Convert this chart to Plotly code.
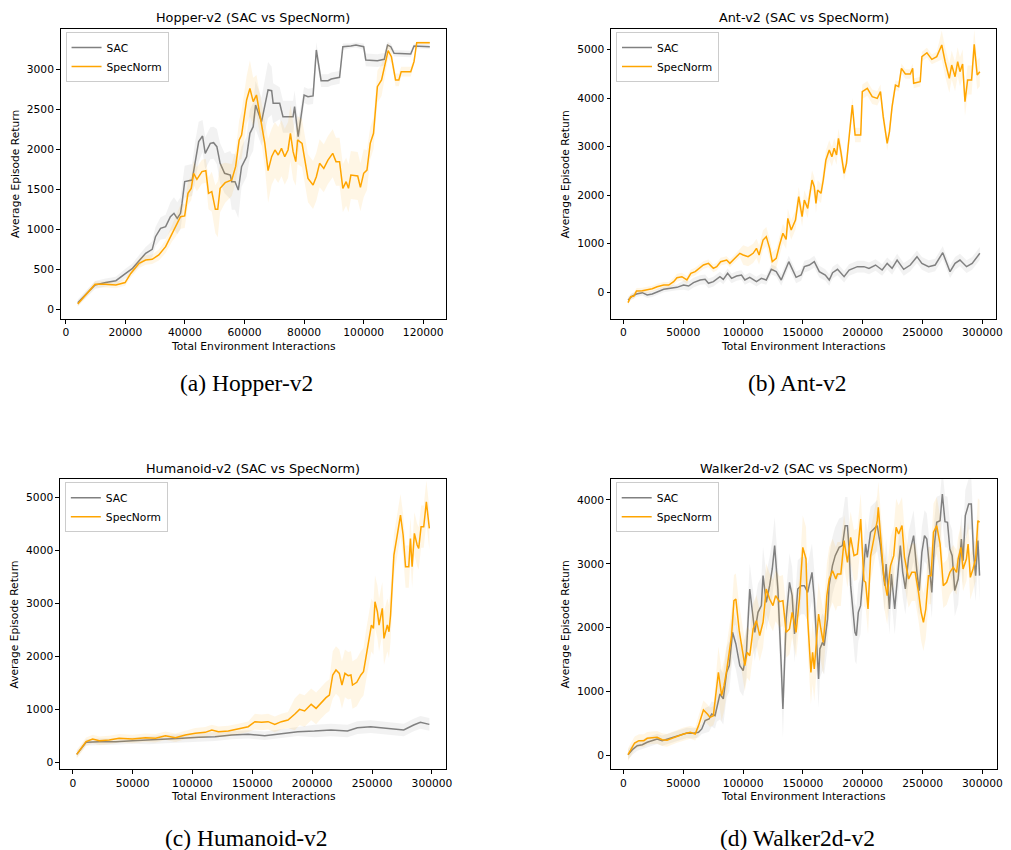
import plotly.graph_objects as go

# ---------------- DATA ----------------
# Hopper-v2
hop_sac_x = [4000, 9800, 13400, 16800, 20100, 22400, 24600, 26800, 29000, 30100, 31800, 33500, 35100, 36300, 37400, 38500, 39000, 39900, 42400, 43500,
             44600, 45900, 46800, 48500, 49600, 50700, 51800, 53300, 55200, 55700, 56800, 57900, 59000, 60700, 61800, 62900, 63700, 65700, 67900, 69100,
             69600, 71800, 72900, 76300, 76800, 78000, 80000, 81300, 83000, 84100, 85700, 88000, 89100, 91900, 93000, 95700, 97400, 100000, 100700, 104600,
             106900, 108000, 109100, 110200, 115800, 116900, 122200]
hop_sac_y = [79, 300, 330, 354, 445, 508, 604, 696, 746, 904, 1008, 1029, 1154, 1196, 1133, 1196, 1320, 1592, 1612, 1862,
             2092, 2162, 1946, 2071, 2079, 2029, 1821, 1696, 1675, 1592, 1592, 1487, 1779, 1904, 2196, 2279, 2550, 2342, 2738, 2729,
             2571, 2571, 2404, 2404, 2529, 2154, 2675, 2654, 2663, 3238, 2854, 2854, 2875, 2896, 3279, 3288, 3300, 3279, 3113, 3104,
             3121, 3300, 3279, 3196, 3188, 3288, 3279]
hop_sac_sd = [40, 50, 50, 50, 60, 60, 70, 80, 100, 120, 140, 150, 180, 200, 200, 200, 220, 200, 200, 250,
              250, 200, 200, 200, 200, 220, 250, 250, 300, 350, 350, 350, 250, 250, 300, 300, 300, 300, 350, 300,
              250, 200, 200, 200, 200, 200, 100, 100, 100, 100, 80, 80, 80, 80, 40, 30, 30, 40, 80, 80,
              80, 40, 40, 40, 40, 30, 30]
hop_sn_x = [4000, 9800, 13400, 16800, 19900, 21800, 24600, 26800, 29000, 31200, 33500, 35700, 36800, 38500, 39900, 41000, 42100, 42900, 44000, 45700,
            47000, 47900, 49000, 50200, 51000, 51800, 53500, 55700, 57000, 58200, 59000, 60700, 61800, 62900, 64000, 65700, 66800, 67900, 69100, 70200,
            71300, 72400, 73500, 74600, 75400, 76300, 77200, 77800, 79300, 81300, 83000, 84100, 85200, 86600, 88000, 89600, 90700, 91900, 93000, 94100,
            94900, 95700, 98000, 98900, 100000, 101100, 102200, 103300, 104600, 106000, 106900, 108200, 109300, 110700, 111800, 112600, 115800, 116900, 117800, 122200]
hop_sn_y = [62, 308, 308, 300, 330, 445, 571, 612, 621, 675, 779, 946, 1021, 1154, 1163, 1446, 1508, 1696, 1621, 1717,
            1729, 1446, 1467, 1246, 1246, 1508, 1579, 1613, 1779, 2113, 2175, 2613, 2758, 2592, 2675, 2321, 2071, 1729, 1904, 1988,
            1925, 2008, 1904, 1988, 2196, 1967, 1842, 2113, 2071, 1633, 1550, 1654, 1821, 1758, 1862, 1946, 1842, 1842, 1508, 1592,
            1508, 1675, 1663, 1521, 1696, 1737, 2071, 2196, 2779, 2863, 3029, 3229, 3154, 2863, 2863, 2967, 2967, 3092, 3329, 3329]
hop_sn_sd = [30, 40, 40, 40, 40, 50, 60, 60, 60, 70, 80, 100, 120, 150, 150, 150, 150, 150, 150, 150,
             150, 200, 250, 300, 350, 300, 250, 200, 200, 250, 300, 300, 350, 300, 250, 250, 300, 400, 350, 350,
             350, 350, 350, 350, 350, 350, 300, 300, 300, 300, 300, 300, 300, 300, 300, 300, 300, 300, 300, 300,
             300, 300, 300, 300, 300, 250, 200, 200, 200, 200, 150, 100, 80, 80, 80, 60, 60, 40, 20, 20]

# Ant-v2
ant_sac_x = [3900, 7500, 11000, 15800, 19900, 24100, 28200, 33700, 39300, 44800, 50300, 54500, 58600, 64100, 68300, 71100, 75200, 80700, 83500, 87100,
             90400, 94600, 98700, 101500, 105600, 111200, 115300, 119400, 123600, 127700, 131900, 138200, 144300, 148500, 151200, 155400, 159500, 163700, 168700, 172000,
             174800, 178900, 184400, 188600, 195500, 201000, 205200, 210700, 216200, 220400, 224500, 228700, 234200, 239700, 245300, 249400, 255000, 260500, 266800, 272900,
             277100, 281200, 286700, 291400, 297800]
ant_sac_y = [-165, -83, -41, -14, -62, -41, 0, 55, 76, 96, 144, 124, 193, 248, 261, 179, 213, 316, 261, 385,
             282, 330, 351, 248, 303, 213, 282, 248, 468, 420, 248, 626, 303, 351, 523, 557, 626, 420, 351, 248,
             399, 468, 316, 454, 523, 523, 488, 557, 454, 591, 488, 660, 468, 557, 729, 591, 523, 557, 812, 420,
             591, 660, 523, 591, 798]
ant_sac_sd = [60] * 10 + [100] * 20 + [120] * 20 + [130] * 15
ant_sn_x = [3900, 6100, 8800, 11000, 15800, 19900, 24100, 28200, 33700, 37900, 42000, 44800, 48900, 53100, 56400, 60000, 64100, 66900, 71100, 75200,
            78000, 81300, 86300, 89000, 93200, 97300, 100100, 104200, 108400, 111200, 113400, 116700, 119400, 122200, 124400, 127700, 130500, 133300, 136000, 137400,
            140200, 141600, 143800, 146500, 149300, 151200, 154000, 157600, 159500, 160900, 162300, 165100, 167000, 169200, 172000, 174200, 176100, 178100, 179700, 181700,
            184400, 186400, 188600, 191300, 193600, 198300, 199600, 203800, 207900, 212100, 214800, 217100, 220400, 222300, 224500, 227300, 230000, 232300, 235600, 239700,
            241700, 242500, 248000, 249400, 253600, 257700, 261800, 266000, 268800, 272300, 274300, 277100, 279300, 281200, 283400, 285400, 287600, 290900, 293100, 295600, 297800]
ant_sn_y = [-220, -96, -83, 21, 28, 41, 69, 110, 144, 144, 213, 296, 316, 248, 385, 420, 502, 557, 591, 488,
            523, 626, 660, 591, 695, 798, 763, 729, 798, 901, 763, 1073, 1142, 901, 626, 695, 970, 1211, 1087, 1520,
            1279, 1348, 1486, 1967, 1554, 1898, 1726, 2311, 2173, 1830, 2105, 2036, 2311, 2724, 2930, 2792, 2965, 2827, 3171, 2896,
            2449, 2655, 3205, 3859, 3240, 3240, 4134, 4202, 4030, 3996, 4134, 3618, 3068, 3308, 3824, 4271, 4237, 4615, 4498, 4498,
            4615, 4306, 4340, 4856, 4938, 4801, 4856, 5097, 4753, 4409, 4684, 4443, 4753, 4546, 4705, 3927, 4374, 4374, 5110, 4478, 4546]
ant_sn_sd = [60] * 10 + [80] * 16 + [200] * 14 + [200] * 20 + [150] * 15 + [100] * 12 + [300] * 14

# Humanoid-v2
hum_sac_x = [3300, 11100, 22100, 35900, 49800, 63600, 77400, 91200, 105000, 118800, 132700, 146500, 160300, 174200, 188000, 201800, 215600, 229400, 237700, 248800,
             262600, 276400, 284700, 290300, 297800]
hum_sac_y = [145, 372, 385, 385, 404, 416, 435, 448, 467, 479, 511, 523, 498, 542, 574, 586, 605, 586, 649, 668,
             637, 605, 700, 750, 712]
hum_sac_sd = [60] * 5 + [80] * 10 + [120] * 10
hum_sn_x = [3300, 11100, 16600, 22100, 30400, 38700, 49800, 60800, 69100, 77400, 85700, 94000, 102300, 110600, 116100, 121700, 129900, 138200, 146500, 152100,
            157600, 163100, 168700, 174200, 179700, 185300, 189400, 193600, 199100, 203200, 206800, 211500, 214300, 217100, 219800, 222600, 224800, 227300, 230000, 232300,
            233600, 237200, 240600, 242800, 244700, 247500, 249400, 251100, 252400, 254400, 255800, 258500, 259900, 262700, 264100, 265400, 268200, 271000, 273700, 275900,
            277900, 280600, 282000, 283400, 285300, 287600, 288900, 290900, 293100, 295300, 297800]
hum_sn_y = [145, 385, 435, 404, 416, 448, 435, 460, 448, 498, 460, 511, 542, 561, 605, 574, 586, 624, 668, 763,
            750, 763, 712, 763, 794, 902, 996, 965, 1091, 1015, 1110, 1217, 1267, 1646, 1740, 1677, 1456, 1677, 1633, 1646,
            1456, 1507, 1646, 1709, 1961, 2371, 2591, 2528, 3033, 2843, 2591, 2907, 2339, 2591, 2465, 2780, 3915, 4294, 4672, 4294,
            3695, 3695, 4228, 3695, 4325, 4105, 4042, 4451, 4451, 4924, 4420]
hum_sn_sd = [80] * 12 + [100] * 7 + [150] * 6 + [300] * 8 + [450] * 11 + [500] * 12 + [400] * 15

# Walker2d-v2
wal_sac_x = [3900, 7500, 11600, 15800, 19900, 24100, 28200, 32400, 36500, 42000, 47600, 53100, 58600, 62800, 65500, 68300, 71600, 73800, 76600, 78000,
             80700, 83500, 86300, 88500, 91200, 94000, 97300, 100100, 102800, 105600, 107800, 109800, 112500, 115300, 116700, 119400, 122200, 124400, 126400, 129100,
             131900, 133300, 136000, 138800, 141000, 143000, 145700, 148500, 151200, 154000, 157600, 159500, 160900, 163100, 164200, 166400, 167800, 170600, 171900, 174700,
             177000, 180300, 183000, 185300, 187200, 188600, 189900, 191300, 193500, 194700, 196300, 198200, 200200, 202400, 203800, 206500, 212100, 214800, 218400, 219500,
             222300, 223900, 226700, 228700, 231400, 233400, 235600, 238300, 240600, 242500, 245300, 247200, 249400, 251600, 253500, 255500, 257700, 259800, 261800, 264600,
             266500, 268700, 270800, 272800, 274700, 276900, 279700, 282400, 283800, 285700, 288500, 290700, 292600, 294300, 296200, 297600]
wal_sac_y = [10, 89, 151, 167, 204, 230, 256, 230, 256, 282, 319, 350, 345, 360, 413, 543, 569, 648, 621, 726,
             961, 883, 1300, 1405, 1927, 1744, 1405, 1326, 1614, 2606, 2214, 1927, 2240, 2345, 2815, 2397, 2658, 2919, 3285, 2606,
             1405, 726, 2136, 2710, 2501, 1901, 2606, 2658, 2658, 2553, 2867, 2449, 1979, 1196, 1666, 1770, 1718, 2136, 2658, 2971,
             3128, 3258, 3285, 3598, 3598, 3232, 2658, 2397, 1927, 1875, 2240, 2345, 2867, 3311, 3102, 3494, 3598, 3285, 2658, 2997,
             2292, 2841, 2292, 2762, 3285, 2867, 2606, 3102, 3285, 3441, 2867, 2580, 3180, 3441, 3389, 2945, 2553, 3285, 3650, 3676,
             4094, 3661, 3650, 3232, 3128, 2580, 2762, 3389, 3050, 3755, 3937, 3937, 3154, 2815, 3363, 2815]
wal_sac_sd = [80] * 15 + [200] * 5 + [400] * 10 + [450] * 17 + [450] * 25 + [400] * 44
wal_sn_x = [3900, 6600, 9400, 13000, 17100, 19900, 24100, 28200, 32400, 36500, 40600, 44800, 50300, 55900, 60000, 62800, 66900, 70200, 72400, 75200,
            78000, 79400, 82100, 84100, 86300, 88500, 90400, 92400, 94000, 96800, 98700, 101500, 103400, 105600, 108400, 111200, 113900, 116700, 119400, 122200,
            125000, 127200, 130500, 133300, 136000, 138800, 141000, 144300, 147100, 149900, 152600, 154000, 156700, 158100, 159500, 161400, 163100, 165000, 167000, 168700,
            170000, 172000, 174800, 177500, 178900, 181700, 184400, 187200, 189900, 192700, 195500, 198300, 201000, 202400, 204400, 206600, 209400, 212100, 213000, 214900,
            217600, 220400, 223200, 225900, 227900, 230000, 232800, 234900, 238300, 241000, 243800, 246600, 248800, 250700, 252700, 254900, 257100, 259100, 261800, 264600,
            267300, 270100, 272800, 275600, 278400, 279700, 282000, 283800, 286600, 288000, 289900, 292100, 294300, 296200, 297600]
wal_sn_y = [10, 99, 193, 230, 230, 266, 277, 282, 245, 235, 266, 298, 334, 360, 334, 465, 710, 648, 595, 621,
            1039, 1300, 935, 1091, 1326, 1614, 1875, 2423, 2449, 1953, 1718, 1405, 1614, 1561, 1979, 2110, 1875, 2084, 2606, 2449,
            2345, 2501, 2407, 2423, 1927, 1979, 2240, 1927, 2449, 3258, 3076, 2136, 1300, 1614, 1352, 1822, 2214, 1979, 1770, 2136,
            2501, 2762, 2893, 2762, 2841, 2841, 3363, 3024, 3415, 3128, 3154, 3702, 2736, 2710, 2292, 3128, 3415, 3676, 3885, 3389,
            2788, 2501, 2971, 3128, 3572, 3467, 3598, 3102, 2762, 2867, 2867, 2553, 2240, 2084, 2292, 2815, 2815, 3494, 3598, 3311,
            2658, 2710, 2867, 2945, 2867, 3076, 3258, 2919, 3076, 3311, 2788, 2919, 3076, 3676, 3650]
wal_sn_sd = [100] * 15 + [150] * 5 + [400] * 10 + [400] * 19 + [500] * 17 + [400] * 14 + [450] * 20 + [350] * 15

# tick labels
hop_xticks = [0, 20000, 40000, 60000, 80000, 100000, 120000]
hop_yticks = [0, 500, 1000, 1500, 2000, 2500, 3000]
big_xticks = [0, 50000, 100000, 150000, 200000, 250000, 300000]
ant_yticks = [0, 1000, 2000, 3000, 4000, 5000]
hum_yticks = [0, 1000, 2000, 3000, 4000, 5000]
wal_yticks = [0, 1000, 2000, 3000, 4000]

titles = ["Hopper-v2 (SAC vs SpecNorm)", "Ant-v2 (SAC vs SpecNorm)",
          "Humanoid-v2 (SAC vs SpecNorm)", "Walker2d-v2 (SAC vs SpecNorm)"]
captions = ["(a) Hopper-v2", "(b) Ant-v2", "(c) Humanoid-v2", "(d) Walker2d-v2"]
series_names = ["SAC", "SpecNorm"]

# ---------------- LAYOUT ----------------
W, H = 1011, 850
FONT = "DejaVu Sans"
TICK = 10.7
GRAY = "#808080"
ORANGE = "#FFA500"
GRAY_FILL = "rgba(128,128,128,0.10)"
ORANGE_FILL = "rgba(255,165,0,0.10)"


def px(xp):
    return xp / W


def py(yp):
    return 1 - yp / H


panels = [
    dict(sac=(hop_sac_x, hop_sac_y, hop_sac_sd), sn=(hop_sn_x, hop_sn_y, hop_sn_sd),
         box=(61, 29, 449.3, 319), xr=[-1770, 127700], yr=[-125, 3500],
         xt=hop_xticks, yt=hop_yticks),
    dict(sac=(ant_sac_x, ant_sac_y, ant_sac_sd), sn=(ant_sn_x, ant_sn_y, ant_sn_sd),
         box=(615.3, 29, 1003.3, 319), xr=[-10290, 311600], yr=[-557, 5427],
         xt=big_xticks, yt=ant_yticks),
    dict(sac=(hum_sac_x, hum_sac_y, hum_sac_sd), sn=(hum_sn_x, hum_sn_y, hum_sn_sd),
         box=(60.3, 479.3, 449.3, 769.3), xr=[-10780, 311860], yr=[-138, 5348],
         xt=big_xticks, yt=hum_yticks),
    dict(sac=(wal_sac_x, wal_sac_y, wal_sac_sd), sn=(wal_sn_x, wal_sn_y, wal_sn_sd),
         box=(615, 479.3, 1004, 769.3), xr=[-10540, 312200], yr=[-219, 4324],
         xt=big_xticks, yt=wal_yticks),
]

fig = go.Figure()
layout = dict(width=W, height=H, margin=dict(l=0, r=0, t=0, b=0),
              paper_bgcolor="white", plot_bgcolor="white",
              font=dict(family=FONT, size=TICK, color="black"),
              showlegend=True, annotations=[])

for i, p in enumerate(panels):
    k = "" if i == 0 else str(i + 1)
    xa, ya = "x" + k, "y" + k
    leg = "legend" + k
    for name, (xs, ys, sd), col, fc in ((series_names[0], p["sac"], GRAY, GRAY_FILL),
                                         (series_names[1], p["sn"], ORANGE, ORANGE_FILL)):
        n = min(len(xs), len(ys))
        sd = (list(sd) + [sd[-1]] * n)[:n]
        xs, ys = list(xs[:n]), list(ys[:n])
        up = [y + s for y, s in zip(ys, sd)]
        lo = [y - s for y, s in zip(ys, sd)]
        fig.add_trace(go.Scatter(x=xs + xs[::-1], y=up + lo[::-1], fill="toself",
                                 fillcolor=fc, line=dict(width=0), mode="lines",
                                 hoverinfo="skip", showlegend=False, xaxis=xa, yaxis=ya))
        fig.add_trace(go.Scatter(x=xs, y=ys, mode="lines", name=name,
                                 line=dict(color=col, width=1.5),
                                 xaxis=xa, yaxis=ya, legend=leg))
    x0, y0, x1, y1 = p["box"]
    axcommon = dict(showline=True, linecolor="black", linewidth=1, mirror=True,
                    ticks="outside", ticklen=3.5, tickwidth=1, tickcolor="black",
                    showgrid=False, zeroline=False,
                    tickfont=dict(family=FONT, size=TICK, color="black"))
    layout["xaxis" + k] = dict(domain=[px(x0), px(x1)], range=p["xr"], anchor=ya,
                               tickvals=p["xt"], ticktext=[str(v) for v in p["xt"]], **axcommon)
    layout["yaxis" + k] = dict(domain=[py(y1), py(y0)], range=p["yr"], anchor=xa,
                               tickvals=p["yt"], ticktext=[str(v) for v in p["yt"]], **axcommon)
    layout[leg] = dict(x=px(x0 + 5), y=py(y0 + 3), xanchor="left", yanchor="top",
                       bgcolor="rgba(255,255,255,0.8)", bordercolor="#cccccc", borderwidth=1,
                       font=dict(family=FONT, size=TICK, color="black"),
                       tracegroupgap=0, itemwidth=30)
    cx = (x0 + x1) / 2
    # title
    layout["annotations"].append(dict(text=titles[i], x=px(cx), y=py(y0 - 11), xref="paper", yref="paper",
                                      showarrow=False, xanchor="center", yanchor="middle",
                                      font=dict(family=FONT, size=12.8, color="black")))
    # x-axis title
    layout["annotations"].append(dict(text="Total Environment Interactions", x=px(cx), y=py(y1 + 27.5),
                                      xref="paper", yref="paper", showarrow=False,
                                      xanchor="center", yanchor="middle",
                                      font=dict(family=FONT, size=TICK, color="black")))
    # y-axis title
    layout["annotations"].append(dict(text="Average Episode Return", x=px(x0 - 46), y=py((y0 + y1) / 2),
                                      xref="paper", yref="paper", showarrow=False, textangle=-90,
                                      xanchor="center", yanchor="middle",
                                      font=dict(family=FONT, size=TICK, color="black")))
    # caption
    cap_y = 383 if i < 2 else 838
    cap_x = 248 if i % 2 == 0 else 803
    layout["annotations"].append(dict(text=captions[i], x=px(cap_x), y=py(cap_y),
                                      xref="paper", yref="paper", showarrow=False,
                                      xanchor="center", yanchor="middle",
                                      font=dict(family="Liberation Serif", size=23.5, color="black")))

fig.update_layout(**layout)
fig.write_html("out.html")
